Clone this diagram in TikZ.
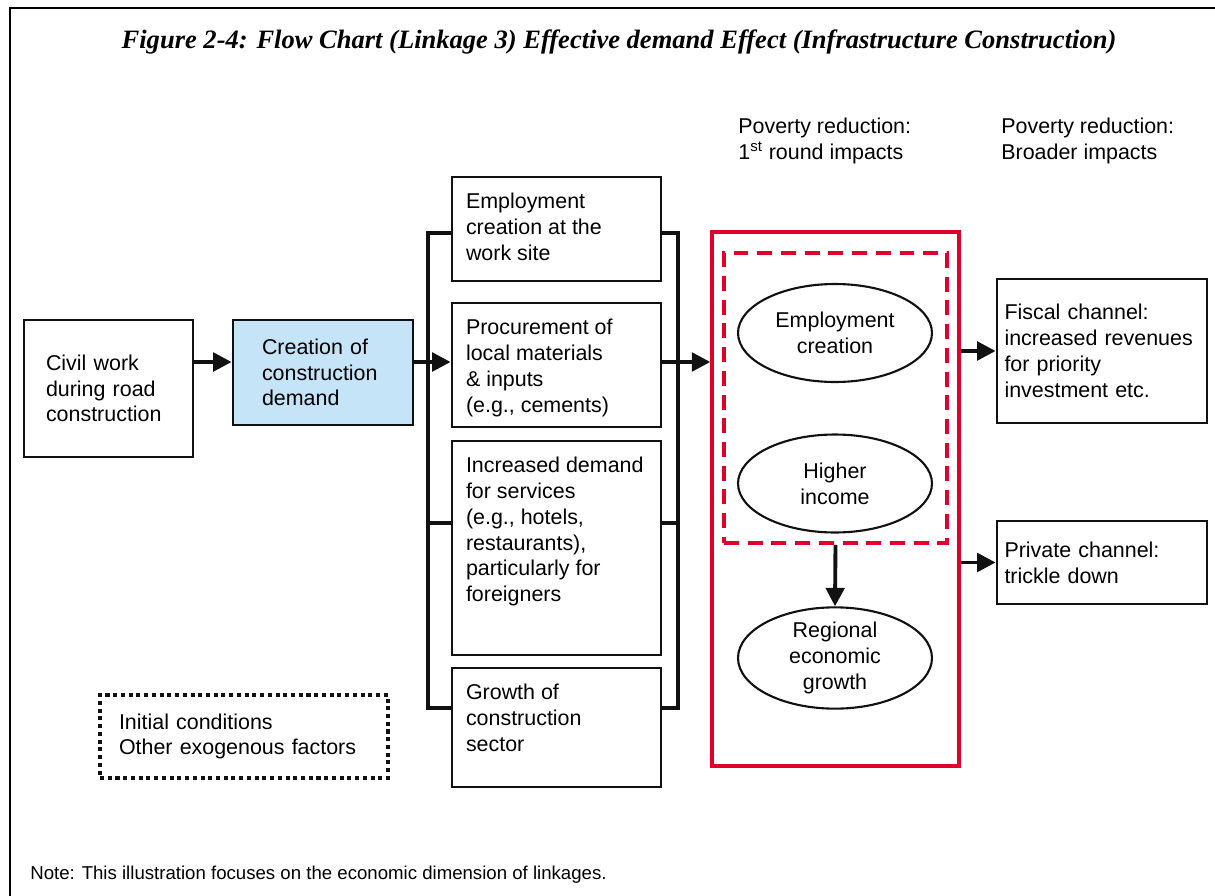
\documentclass[tikz,border=0pt]{standalone}
\usepackage{fontspec}
\setmainfont{Liberation Sans}
\newfontfamily\fcTitleFont{Liberation Serif}
\usetikzlibrary{shapes.geometric,arrows.meta,positioning,fit}
\definecolor{fcRed}{HTML}{E2002B}
\definecolor{fcBlue}{HTML}{C6E4F7}
\definecolor{fcInk}{HTML}{111111}
\newcommand{\fcfont}{\fontsize{12.2}{14.7}\selectfont}
\newcommand{\topfill}[2]{\parbox[c][#1][t]{3.62cm}{\raggedright #2}}
\tikzset{
    fcBoxBase/.style={
        rectangle,
        draw=fcInk,
        line width=1.6pt,
        font=\fcfont,
        align=left,
        inner sep=0pt
    },
    % Variants
    fcMid/.style={fcBoxBase, minimum width=4.18cm, inner xsep=0.26cm, inner ysep=0.32cm},
    fcSide/.style={fcBoxBase, minimum width=4.2cm},
    fcEllipse/.style={
        ellipse,
        draw=fcInk,
        line width=1.2pt,
        minimum width=3.88cm,
        minimum height=1.96cm,
        inner sep=0pt,
        align=center,
        font=\fcfont
    },
    fcRedBox/.style={draw=fcRed, line width=1.9pt, inner sep=0pt},
    fcRedDash/.style={draw=fcRed, line width=2.1pt, dash pattern=on 8.5pt off 5pt, inner sep=0pt},
    fcDotted/.style={fcBoxBase, line width=2.3pt, dash pattern=on 2.3pt off 2.1pt},
    fcHead/.style={font=\fcfont, align=left, anchor=west, inner sep=0pt},
    % Lines
    fcArrow/.style={-{Triangle[length=10.5pt,width=10.5pt]}, line width=2.2pt, draw=fcInk},
    fcBracket/.style={line width=1.9pt, draw=fcInk}
}

\begin{document}
\begin{tikzpicture}[x=0.02cm, y=-0.02cm]
\useasboundingbox (0,0) rectangle (1215,896);
\draw[line width=1.2pt] (10,896) -- (10,8) -- (1215,8);

\node[font=\fcTitleFont\bfseries\itshape\fontsize{15.1}{17}\selectfont] (title) at (619,42)
    {Figure 2-4: Flow Chart (Linkage 3) Effective demand Effect (Infrastructure Construction)};

\node[fcHead] (head1) at (738,141) {Poverty reduction:\\1\textsuperscript{st} round impacts};
\node[fcHead] (head2) at (1001,141) {Poverty reduction:\\Broader impacts};

\node[fcBoxBase, minimum width=3.38cm, minimum height=2.74cm, text width=2.5cm] (civ) at (108.5,388.5)
    {Civil work\\during road\\construction};
\node[fcBoxBase, fill=fcBlue, minimum width=3.6cm, minimum height=2.1cm, text width=2.44cm] (cre) at (323,372.5)
    {Creation of\\construction\\demand};

\node[fcMid, minimum height=2.08cm] (emp) at (556.5,229)
    {\topfill{1.44cm}{Employment\\creation at the\\work site}};
\node[fcMid, minimum height=2.48cm] (proc) at (556.5,365)
    {\topfill{1.84cm}{Procurement of\\local materials\\\& inputs\\(e.g., cements)}};
\node[fcMid, minimum height=4.28cm] (serv) at (556.5,548)
    {\topfill{3.64cm}{Increased demand\\for services\\(e.g., hotels,\\restaurants),\\particularly for\\foreigners}};
\node[fcMid, minimum height=2.38cm] (grow) at (556.5,727.5)
    {\topfill{1.74cm}{Growth of\\construction\\sector}};

\node[fcRedBox, fit={(712,232) (959,766)}] (red) {};
\node[fcRedDash, fit={(724,253) (947,543)}] (dash) {};
\node[fcEllipse] (ecre) at (835,333) {Employment\\creation};
\node[fcEllipse] (inc) at (835,483.5) {Higher\\income};
\node[fcEllipse] (reg) at (835,658) {Regional\\economic\\growth};

\node[fcSide, minimum height=2.88cm, text width=3.9cm] (fis) at (1102,351)
    {Fiscal channel:\\increased revenues\\for priority\\investment etc.};
\node[fcSide, minimum height=1.66cm, text width=3.9cm] (priv) at (1102,562.5)
    {Private channel:\\trickle down};

\node[fcDotted, minimum width=5.76cm, minimum height=1.66cm, text width=5.0cm] (exo) at (244,736.5)
    {Initial conditions\\Other exogenous factors};

\node[anchor=west, inner sep=0pt, font=\fontsize{10.6}{12}\selectfont] (note) at (30,875)
    {Note: This illustration focuses on the economic dimension of linkages.};

% brackets
\coordinate (row) at (0,362);
\coordinate (lb) at (428,0);
\coordinate (rb) at (678,0);
\draw[fcBracket] (emp.west |- 0,233) -- (lb |- 0,233) -- (lb |- 0,708) -- (grow.west |- 0,708);
\draw[fcBracket] (emp.east |- 0,233) -- (rb |- 0,233) -- (rb |- 0,708) -- (grow.east |- 0,708);
\draw[fcBracket] (lb |- 0,523) -- (serv.west |- 0,523);
\draw[fcBracket] (serv.east |- 0,523) -- (rb |- 0,523);

% arrows
\draw[fcArrow] (civ.east |- row) -- (cre.west |- row);
\draw[fcArrow] (cre.east |- row) -- (proc.west |- row);
\draw[fcArrow] (proc.east |- row) -- (red.west |- row);
\draw[fcArrow] (red.east |- fis.west) -- (fis.west);
\draw[fcArrow] (red.east |- priv.west) -- (priv.west);
\draw[fcArrow] (dash.south) -- (reg.north);
\end{tikzpicture}
\end{document}
